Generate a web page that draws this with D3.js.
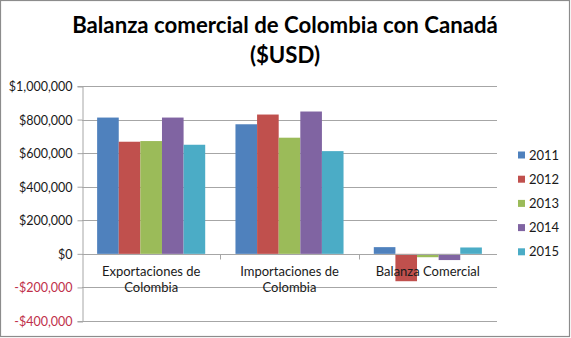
<!DOCTYPE html>
<html>
<head>
<meta charset="utf-8">
<script src="https://cdn.jsdelivr.net/npm/d3@7"></script>
<style>
  html, body { margin: 0; padding: 0; background: #fff; }
  svg { display: block; }
  text { font-family: Lato, "Open Sans", sans-serif; }
</style>
</head>
<body>
<svg id="chart" width="571" height="338"></svg>
<script>
// Trade figures, Colombia – Canada (USD)
const categories = ["Exportaciones de Colombia", "Importaciones de Colombia", "Balanza Comercial"];
const categoryLines = [["Exportaciones de", "Colombia"], ["Importaciones de", "Colombia"], ["Balanza Comercial"]];
const years = ["2011", "2012", "2013", "2014", "2015"];
const exportaciones = [812000, 668000, 672000, 812000, 650000];
const importaciones = [772000, 830000, 692000, 848000, 612000];
const balanza = [40000, -163000, -20000, -37000, 38000];
const yTicks = [-400000, -200000, 0, 200000, 400000, 600000, 800000, 1000000];
const colors = ["#4F81BD", "#C0504D", "#9BBB59", "#8064A2", "#4BACC6"];

const seriesByCategory = [exportaciones, importaciones, balanza];

const svg = d3.select("#chart");
const W = 571, H = 338;

// outer frame
svg.append("rect")
  .attr("x", 0.5).attr("y", 0.5)
  .attr("width", W - 2).attr("height", H - 2)
  .attr("fill", "#fff").attr("stroke", "#8c8c8c").attr("stroke-width", 1.2);

const plot = { left: 82, right: 497, top: 86, bottom: 321 };

const y = d3.scaleLinear().domain([-400000, 1000000]).range([plot.bottom, plot.top]);
const x0 = d3.scaleBand().domain(categories).range([plot.left, plot.right]).paddingInner(0).paddingOuter(0);
const x1 = d3.scaleBand().domain(years).range([0, x0.bandwidth()]).paddingInner(0).paddingOuter(0.7);

// title
const title = svg.append("g").attr("font-weight", "bold").attr("fill", "#000");
const t1 = title.append("text").attr("x", 285).attr("y", 33).attr("text-anchor", "middle")
  .attr("font-size", 22).text("Balanza comercial de Colombia con Canadá");
const w1 = t1.node().getComputedTextLength();
const fs = 22 * 426 / w1;
t1.attr("font-size", fs);
title.append("text").attr("x", 285).attr("y", 63).attr("text-anchor", "middle")
  .attr("font-size", fs).text("($USD)");

// gridlines
svg.append("g")
  .selectAll("line").data(yTicks).join("line")
  .attr("x1", plot.left).attr("x2", plot.right)
  .attr("y1", d => Math.round(y(d)) + 0.5).attr("y2", d => Math.round(y(d)) + 0.5)
  .attr("stroke", "#a6a6a6").attr("stroke-width", 1);

// y axis
const yAxis = d3.axisLeft(y).tickValues(yTicks).tickSize(5).tickPadding(5)
  .tickFormat(d => (d < 0 ? "-$" : "$") + d3.format(",")(Math.abs(d)));
const gy = svg.append("g").attr("transform", `translate(${plot.left + 0.5},0.5)`).call(yAxis);
gy.select(".domain").attr("stroke", "#a6a6a6");
gy.selectAll(".tick line").attr("stroke", "#a6a6a6").attr("transform", "translate(0,-0.5)");
gy.selectAll(".tick text")
  .attr("font-size", 12.5)
  .attr("font-family", "Lato, sans-serif")
  .attr("fill", d => d < 0 ? "#c0304a" : "#1a1a1a");

// bars
const groups = svg.append("g").selectAll("g").data(categories).join("g")
  .attr("transform", d => `translate(${x0(d)},0)`);
groups.selectAll("rect")
  .data((c, i) => seriesByCategory[i].map((v, j) => ({ year: years[j], value: v })))
  .join("rect")
  .attr("x", d => x1(d.year))
  .attr("width", x1.bandwidth())
  .attr("y", d => y(Math.max(0, d.value)))
  .attr("height", d => Math.abs(y(d.value) - y(0)))
  .attr("fill", (d, j) => colors[j]);

// horizontal axis at zero with category tick marks
const zeroY = Math.round(y(0)) + 0.5;
svg.append("line")
  .attr("x1", plot.left).attr("x2", plot.right)
  .attr("y1", zeroY).attr("y2", zeroY)
  .attr("stroke", "#a6a6a6");
svg.append("g").selectAll("line").data(categories.slice(1)).join("line")
  .attr("x1", d => Math.round(x0(d)) + 0.5).attr("x2", d => Math.round(x0(d)) + 0.5)
  .attr("y1", zeroY).attr("y2", zeroY + 5)
  .attr("stroke", "#a6a6a6");

// category labels
const labels = svg.append("g").selectAll("text").data(categories).join("text")
  .attr("text-anchor", "middle")
  .attr("font-size", 13)
  .attr("fill", "#1a1a1a");
labels.each(function (d, i) {
  const cx = x0(d) + x0.bandwidth() / 2;
  d3.select(this).selectAll("tspan").data(categoryLines[i]).join("tspan")
    .attr("x", cx)
    .attr("y", (l, k) => 276 + k * 16)
    .text(l => l);
});

// legend
const legend = svg.append("g").selectAll("g").data(years).join("g")
  .attr("transform", (d, i) => `translate(518,${155 + i * 24.2})`);
legend.append("rect")
  .attr("x", 0).attr("y", -3.5).attr("width", 7).attr("height", 7)
  .attr("fill", (d, i) => colors[i]);
legend.append("text")
  .attr("x", 11).attr("y", 4.5)
  .attr("font-size", 13).attr("fill", "#1a1a1a")
  .text(d => d);
</script>
</body>
</html>
